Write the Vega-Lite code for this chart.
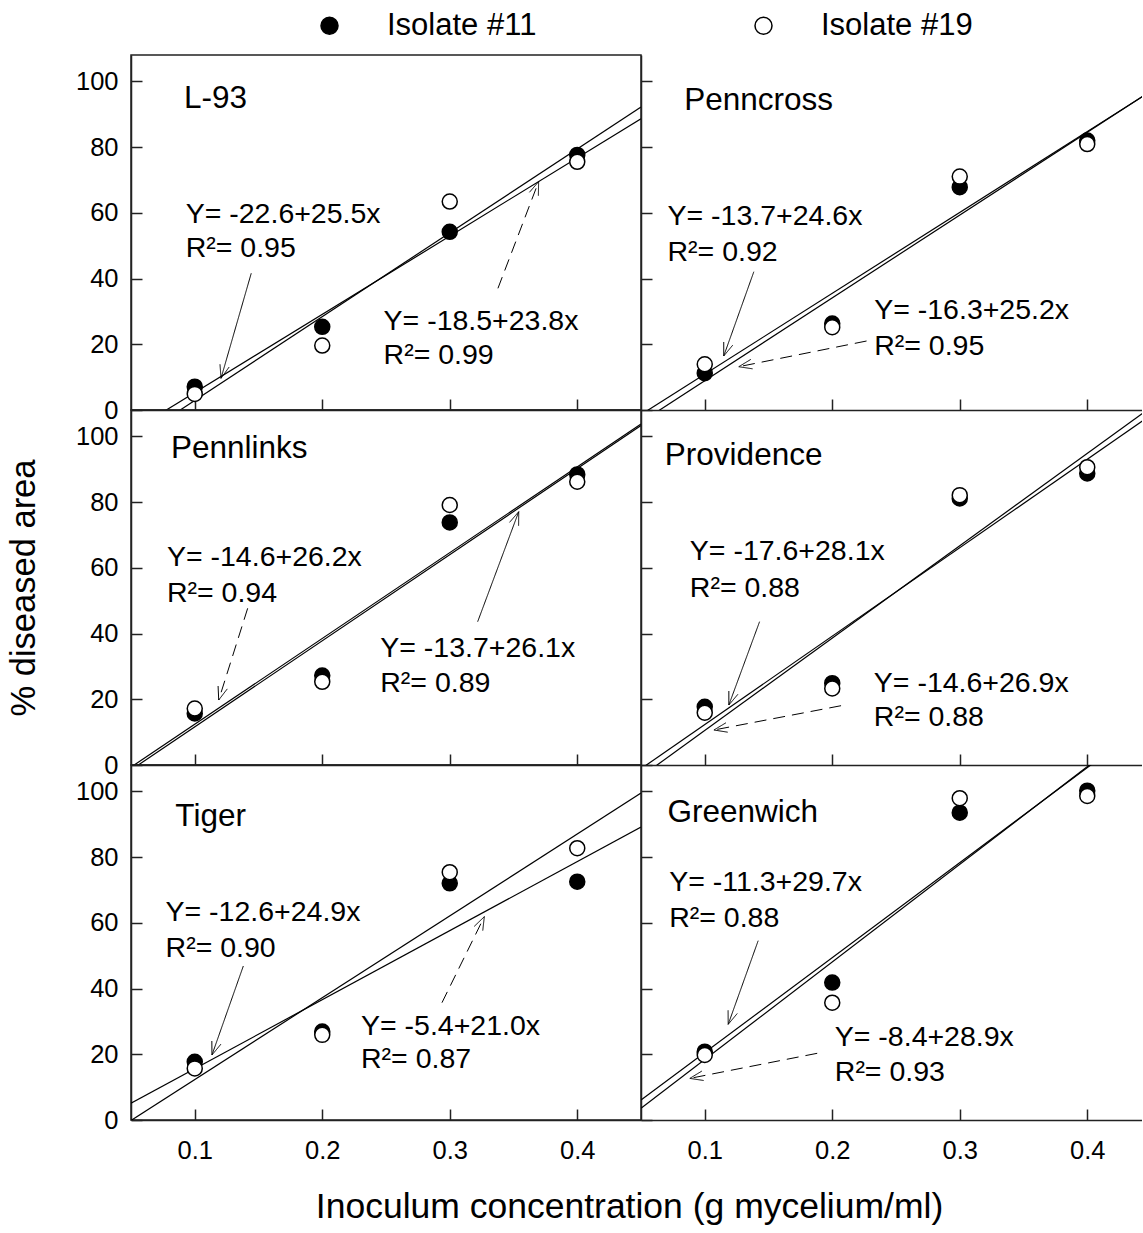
{
"$schema": "https://vega.github.io/schema/vega-lite/v6.json",
"padding": {"left": 5, "top": 10, "right": 0, "bottom": 0},
"config": {
  "font": "Liberation Sans",
  "view": {"stroke": "#222", "strokeWidth": 1.5},
  "axis": {"grid": false, "domainColor": "#222", "domainWidth": 1.5, "tickColor": "#222", "tickWidth": 1.5, "labelColor": "black", "labelFontSize": 25.5, "titleColor": "black", "titleFontSize": 34.5, "titleFontWeight": "normal"}
},
"datasets": {
  "pts": [
    {"panel":"L-93","isolate":"Isolate #11","x":0.1,"y":7.1},{"panel":"L-93","isolate":"Isolate #11","x":0.2,"y":25.3},{"panel":"L-93","isolate":"Isolate #11","x":0.3,"y":54.2},{"panel":"L-93","isolate":"Isolate #11","x":0.4,"y":77.6},
    {"panel":"L-93","isolate":"Isolate #19","x":0.1,"y":4.9},{"panel":"L-93","isolate":"Isolate #19","x":0.2,"y":19.6},{"panel":"L-93","isolate":"Isolate #19","x":0.3,"y":63.4},{"panel":"L-93","isolate":"Isolate #19","x":0.4,"y":75.5},
    {"panel":"Penncross","isolate":"Isolate #11","x":0.1,"y":11.2},{"panel":"Penncross","isolate":"Isolate #11","x":0.2,"y":26.3},{"panel":"Penncross","isolate":"Isolate #11","x":0.3,"y":67.8},{"panel":"Penncross","isolate":"Isolate #11","x":0.4,"y":82.0},
    {"panel":"Penncross","isolate":"Isolate #19","x":0.1,"y":13.9},{"panel":"Penncross","isolate":"Isolate #19","x":0.2,"y":25.2},{"panel":"Penncross","isolate":"Isolate #19","x":0.3,"y":71.0},{"panel":"Penncross","isolate":"Isolate #19","x":0.4,"y":80.9},
    {"panel":"Pennlinks","isolate":"Isolate #11","x":0.1,"y":15.7},{"panel":"Pennlinks","isolate":"Isolate #11","x":0.2,"y":27.2},{"panel":"Pennlinks","isolate":"Isolate #11","x":0.3,"y":73.8},{"panel":"Pennlinks","isolate":"Isolate #11","x":0.4,"y":88.4},
    {"panel":"Pennlinks","isolate":"Isolate #19","x":0.1,"y":17.2},{"panel":"Pennlinks","isolate":"Isolate #19","x":0.2,"y":25.3},{"panel":"Pennlinks","isolate":"Isolate #19","x":0.3,"y":79.1},{"panel":"Pennlinks","isolate":"Isolate #19","x":0.4,"y":86.2},
    {"panel":"Providence","isolate":"Isolate #11","x":0.1,"y":17.7},{"panel":"Providence","isolate":"Isolate #11","x":0.2,"y":24.9},{"panel":"Providence","isolate":"Isolate #11","x":0.3,"y":81.1},{"panel":"Providence","isolate":"Isolate #11","x":0.4,"y":88.7},
    {"panel":"Providence","isolate":"Isolate #19","x":0.1,"y":15.9},{"panel":"Providence","isolate":"Isolate #19","x":0.2,"y":23.3},{"panel":"Providence","isolate":"Isolate #19","x":0.3,"y":82.1},{"panel":"Providence","isolate":"Isolate #19","x":0.4,"y":90.6},
    {"panel":"Tiger","isolate":"Isolate #11","x":0.1,"y":17.7},{"panel":"Tiger","isolate":"Isolate #11","x":0.2,"y":26.9},{"panel":"Tiger","isolate":"Isolate #11","x":0.3,"y":72.0},{"panel":"Tiger","isolate":"Isolate #11","x":0.4,"y":72.5},
    {"panel":"Tiger","isolate":"Isolate #19","x":0.1,"y":15.7},{"panel":"Tiger","isolate":"Isolate #19","x":0.2,"y":25.9},{"panel":"Tiger","isolate":"Isolate #19","x":0.3,"y":75.4},{"panel":"Tiger","isolate":"Isolate #19","x":0.4,"y":82.7},
    {"panel":"Greenwich","isolate":"Isolate #11","x":0.1,"y":20.8},{"panel":"Greenwich","isolate":"Isolate #11","x":0.2,"y":41.8},{"panel":"Greenwich","isolate":"Isolate #11","x":0.3,"y":93.5},{"panel":"Greenwich","isolate":"Isolate #11","x":0.4,"y":100.2},
    {"panel":"Greenwich","isolate":"Isolate #19","x":0.1,"y":19.8},{"panel":"Greenwich","isolate":"Isolate #19","x":0.2,"y":35.7},{"panel":"Greenwich","isolate":"Isolate #19","x":0.3,"y":97.9},{"panel":"Greenwich","isolate":"Isolate #19","x":0.4,"y":98.6}
  ],
  "lines": [
    {"panel":"L-93","line":"a","x":0.05,"y":-9.85},{"panel":"L-93","line":"a","x":0.45,"y":92.15},
    {"panel":"L-93","line":"b","x":0.05,"y":-6.6},{"panel":"L-93","line":"b","x":0.45,"y":88.6},
    {"panel":"Penncross","line":"a","x":0.05,"y":-1.4},{"panel":"Penncross","line":"a","x":0.45,"y":97.0},
    {"panel":"Penncross","line":"b","x":0.05,"y":-3.7},{"panel":"Penncross","line":"b","x":0.45,"y":97.1},
    {"panel":"Pennlinks","line":"a","x":0.05,"y":-1.5},{"panel":"Pennlinks","line":"a","x":0.45,"y":103.3},
    {"panel":"Pennlinks","line":"b","x":0.05,"y":-0.65},{"panel":"Pennlinks","line":"b","x":0.45,"y":103.75},
    {"panel":"Providence","line":"a","x":0.05,"y":-3.55},{"panel":"Providence","line":"a","x":0.45,"y":108.85},
    {"panel":"Providence","line":"b","x":0.05,"y":-1.15},{"panel":"Providence","line":"b","x":0.45,"y":106.45},
    {"panel":"Tiger","line":"a","x":0.05,"y":-0.15},{"panel":"Tiger","line":"a","x":0.45,"y":99.45},
    {"panel":"Tiger","line":"b","x":0.05,"y":5.1},{"panel":"Tiger","line":"b","x":0.45,"y":89.1},
    {"panel":"Greenwich","line":"a","x":0.05,"y":3.55},{"panel":"Greenwich","line":"a","x":0.45,"y":122.35},
    {"panel":"Greenwich","line":"b","x":0.05,"y":6.05},{"panel":"Greenwich","line":"b","x":0.45,"y":121.65}
  ],
  "segs": [
    {"panel":"L-93","style":"solid","x":0.1443,"y":41.59,"x2":0.1206,"y2":9.64},
    {"panel":"L-93","style":"solid","x":0.1206,"y":9.64,"x2":0.1270,"y2":13.08},
    {"panel":"L-93","style":"solid","x":0.1206,"y":9.64,"x2":0.1198,"y2":13.90},
    {"panel":"L-93","style":"dashed","x":0.3378,"y":37.02,"x2":0.3697,"y2":69.46},
    {"panel":"L-93","style":"solid","x":0.3697,"y":69.46,"x2":0.3625,"y2":66.23},
    {"panel":"L-93","style":"solid","x":0.3697,"y":69.46,"x2":0.3695,"y2":65.20},
    {"panel":"Penncross","style":"solid","x":0.1385,"y":42.07,"x2":0.1149,"y2":16.43},
    {"panel":"Penncross","style":"solid","x":0.1149,"y":16.43,"x2":0.1219,"y2":19.71},
    {"panel":"Penncross","style":"solid","x":0.1149,"y":16.43,"x2":0.1149,"y2":20.69},
    {"panel":"Penncross","style":"dashed","x":0.2269,"y":20.99,"x2":0.1267,"y2":13.17},
    {"panel":"Penncross","style":"solid","x":0.1267,"y":13.17,"x2":0.1375,"y2":12.53},
    {"panel":"Penncross","style":"solid","x":0.1267,"y":13.17,"x2":0.1361,"y2":15.39},
    {"panel":"Pennlinks","style":"dashed","x":0.1415,"y":47.67,"x2":0.1188,"y2":19.78},
    {"panel":"Pennlinks","style":"solid","x":0.1188,"y":19.78,"x2":0.1255,"y2":23.15},
    {"panel":"Pennlinks","style":"solid","x":0.1188,"y":19.78,"x2":0.1183,"y2":24.03},
    {"panel":"Pennlinks","style":"solid","x":0.3219,"y":43.60,"x2":0.3541,"y2":77.06},
    {"panel":"Pennlinks","style":"solid","x":0.3541,"y":77.06,"x2":0.3469,"y2":73.81},
    {"panel":"Pennlinks","style":"solid","x":0.3541,"y":77.06,"x2":0.3540,"y2":72.80},
    {"panel":"Providence","style":"solid","x":0.1430,"y":43.60,"x2":0.1189,"y2":18.25},
    {"panel":"Providence","style":"solid","x":0.1189,"y":18.25,"x2":0.1260,"y2":21.51},
    {"panel":"Providence","style":"solid","x":0.1189,"y":18.25,"x2":0.1189,"y2":22.51},
    {"panel":"Providence","style":"dashed","x":0.2069,"y":18.04,"x2":0.1072,"y2":10.65},
    {"panel":"Providence","style":"solid","x":0.1072,"y":10.65,"x2":0.1180,"y2":9.98},
    {"panel":"Providence","style":"solid","x":0.1072,"y":10.65,"x2":0.1166,"y2":12.84},
    {"panel":"Tiger","style":"solid","x":0.1381,"y":46.85,"x2":0.1135,"y2":19.77},
    {"panel":"Tiger","style":"solid","x":0.1135,"y":19.77,"x2":0.1205,"y2":23.06},
    {"panel":"Tiger","style":"solid","x":0.1135,"y":19.77,"x2":0.1134,"y2":24.03},
    {"panel":"Tiger","style":"dashed","x":0.2939,"y":35.69,"x2":0.3271,"y2":61.85},
    {"panel":"Tiger","style":"solid","x":0.3271,"y":61.85,"x2":0.3192,"y2":58.90},
    {"panel":"Tiger","style":"solid","x":0.3271,"y":61.85,"x2":0.3259,"y2":57.62},
    {"panel":"Greenwich","style":"solid","x":0.1419,"y":54.55,"x2":0.1184,"y2":29.11},
    {"panel":"Greenwich","style":"solid","x":0.1184,"y":29.11,"x2":0.1255,"y2":32.40},
    {"panel":"Greenwich","style":"solid","x":0.1184,"y":29.11,"x2":0.1183,"y2":33.37},
    {"panel":"Greenwich","style":"dashed","x":0.1882,"y":20.29,"x2":0.0883,"y2":12.66},
    {"panel":"Greenwich","style":"solid","x":0.0883,"y":12.66,"x2":0.0991,"y2":12.02},
    {"panel":"Greenwich","style":"solid","x":0.0883,"y":12.66,"x2":0.0977,"y2":14.88}
  ],
  "txt": [
    {"panel":"L-93","kind":"label","x":0.0916,"y":91.9,"text":"L-93"},
    {"panel":"L-93","kind":"eq","x":0.0929,"y":56.98,"text":"Y= -22.6+25.5x"},
    {"panel":"L-93","kind":"eq","x":0.0929,"y":46.64,"text":"R²= 0.95"},
    {"panel":"L-93","kind":"eq","x":0.2481,"y":24.34,"text":"Y= -18.5+23.8x"},
    {"panel":"L-93","kind":"eq","x":0.2481,"y":13.99,"text":"R²= 0.99"},
    {"panel":"Penncross","kind":"label","x":0.0839,"y":91.3,"text":"Penncross"},
    {"panel":"Penncross","kind":"eq","x":0.0708,"y":56.3,"text":"Y= -13.7+24.6x"},
    {"panel":"Penncross","kind":"eq","x":0.0708,"y":45.4,"text":"R²= 0.92"},
    {"panel":"Penncross","kind":"eq","x":0.2329,"y":27.6,"text":"Y= -16.3+25.2x"},
    {"panel":"Penncross","kind":"eq","x":0.2329,"y":16.7,"text":"R²= 0.95"},
    {"panel":"Pennlinks","kind":"label","x":0.0814,"y":93.5,"text":"Pennlinks"},
    {"panel":"Pennlinks","kind":"eq","x":0.0782,"y":60.6,"text":"Y= -14.6+26.2x"},
    {"panel":"Pennlinks","kind":"eq","x":0.0782,"y":49.7,"text":"R²= 0.94"},
    {"panel":"Pennlinks","kind":"eq","x":0.2455,"y":32.9,"text":"Y= -13.7+26.1x"},
    {"panel":"Pennlinks","kind":"eq","x":0.2455,"y":22.1,"text":"R²= 0.89"},
    {"panel":"Providence","kind":"label","x":0.0687,"y":91.3,"text":"Providence"},
    {"panel":"Providence","kind":"eq","x":0.0883,"y":62.4,"text":"Y= -17.6+28.1x"},
    {"panel":"Providence","kind":"eq","x":0.0883,"y":51.2,"text":"R²= 0.88"},
    {"panel":"Providence","kind":"eq","x":0.2326,"y":22.3,"text":"Y= -14.6+26.9x"},
    {"panel":"Providence","kind":"eq","x":0.2326,"y":12.0,"text":"R²= 0.88"},
    {"panel":"Tiger","kind":"label","x":0.0848,"y":89.4,"text":"Tiger"},
    {"panel":"Tiger","kind":"eq","x":0.0771,"y":60.5,"text":"Y= -12.6+24.9x"},
    {"panel":"Tiger","kind":"eq","x":0.0771,"y":49.7,"text":"R²= 0.90"},
    {"panel":"Tiger","kind":"eq","x":0.2304,"y":25.9,"text":"Y= -5.4+21.0x"},
    {"panel":"Tiger","kind":"eq","x":0.2304,"y":15.7,"text":"R²= 0.87"},
    {"panel":"Greenwich","kind":"label","x":0.0708,"y":90.6,"text":"Greenwich"},
    {"panel":"Greenwich","kind":"eq","x":0.0721,"y":69.7,"text":"Y= -11.3+29.7x"},
    {"panel":"Greenwich","kind":"eq","x":0.0721,"y":58.8,"text":"R²= 0.88"},
    {"panel":"Greenwich","kind":"eq","x":0.2020,"y":22.5,"text":"Y= -8.4+28.9x"},
    {"panel":"Greenwich","kind":"eq","x":0.2020,"y":12.0,"text":"R²= 0.93"}
  ]
},
"columns": 2,
"spacing": 0,
"bounds": "flush",
"align": "each",
"resolve": {"scale": {"x": "independent", "y": "independent"}},
"concat": [
  {
    "width": 510, "height": 355,
    "encoding": {
      "x": {"field": "x", "type": "quantitative", "scale": {"domain": [0.05, 0.45], "nice": false, "zero": false}, "axis": {"values": [0.1, 0.2, 0.3, 0.4], "labels": false, "tickSize": -11, "title": null}},
      "y": {"field": "y", "type": "quantitative", "scale": {"domain": [0, 108], "nice": false}, "axis": {"values": [0, 20, 40, 60, 80, 100], "tickSize": -11, "labelPadding": 24, "title": null}}
    },
    "layer": [
      {"data": {"name": "lines"}, "transform": [{"filter": "datum.panel == 'L-93'"}], "mark": {"type": "line", "clip": true, "color": "black", "strokeWidth": 1.2}, "encoding": {"detail": {"field": "line", "type": "nominal"}}},
      {"data": {"name": "segs"}, "transform": [{"filter": "datum.panel == 'L-93'"}], "mark": {"type": "rule", "color": "black", "strokeWidth": 1}, "encoding": {"x2": {"field": "x2"}, "y2": {"field": "y2"}, "strokeDash": {"field": "style", "type": "nominal", "scale": {"domain": ["solid", "dashed"], "range": [[1, 0], [12, 7]]}, "legend": null}}},
      {"data": {"name": "pts"}, "transform": [{"filter": "datum.panel == 'L-93'"}], "mark": {"type": "circle", "size": 225, "stroke": "black", "strokeWidth": 1.5, "opacity": 1}, "encoding": {"fill": {"field": "isolate", "type": "nominal", "scale": {"domain": ["Isolate #11", "Isolate #19"], "range": ["black", "white"]}, "legend": {"title": null, "orient": "none", "legendX": 183, "legendY": -45, "direction": "horizontal", "labelFontSize": 31, "labelOffset": 42, "columnPadding": 211, "symbolSize": 289, "symbolStrokeColor": "black", "symbolStrokeWidth": 1.5, "symbolType": "circle", "labelColor": "black"}}}},
      {"data": {"name": "txt"}, "transform": [{"filter": "datum.panel == 'L-93' && datum.kind == 'label'"}], "mark": {"type": "text", "align": "left", "baseline": "alphabetic", "fontSize": 31.5, "color": "black"}, "encoding": {"text": {"field": "text"}}},
      {"data": {"name": "txt"}, "transform": [{"filter": "datum.panel == 'L-93' && datum.kind == 'eq'"}], "mark": {"type": "text", "align": "left", "baseline": "alphabetic", "fontSize": 28.5, "color": "black"}, "encoding": {"text": {"field": "text"}}}
    ]
  },
  {
    "width": 501, "height": 355,
    "view": {"stroke": null},
    "encoding": {
      "x": {"field": "x", "type": "quantitative", "scale": {"domain": [0.05, 0.442941], "nice": false, "zero": false}, "axis": {"values": [0.1, 0.2, 0.3, 0.4], "labels": false, "tickSize": -11, "title": null}},
      "y": {"field": "y", "type": "quantitative", "scale": {"domain": [0, 108], "nice": false}, "axis": {"values": [0, 20, 40, 60, 80, 100], "labels": false, "tickSize": -11, "title": null}}
    },
    "layer": [
      {"data": {"values": [{"edge": "top"}]}, "mark": {"type": "rule", "color": "#222", "strokeWidth": 1.5}, "encoding": {"x": {"datum": 0.05}, "x2": {"datum": 0.442941}, "y": {"datum": 108}}},
      {"data": {"name": "lines"}, "transform": [{"filter": "datum.panel == 'Penncross'"}], "mark": {"type": "line", "clip": true, "color": "black", "strokeWidth": 1.2}, "encoding": {"detail": {"field": "line", "type": "nominal"}}},
      {"data": {"name": "segs"}, "transform": [{"filter": "datum.panel == 'Penncross'"}], "mark": {"type": "rule", "color": "black", "strokeWidth": 1}, "encoding": {"x2": {"field": "x2"}, "y2": {"field": "y2"}, "strokeDash": {"field": "style", "type": "nominal", "scale": {"domain": ["solid", "dashed"], "range": [[1, 0], [12, 7]]}, "legend": null}}},
      {"data": {"name": "pts"}, "transform": [{"filter": "datum.panel == 'Penncross'"}], "mark": {"type": "circle", "size": 225, "stroke": "black", "strokeWidth": 1.5, "opacity": 1}, "encoding": {"fill": {"field": "isolate", "type": "nominal", "scale": {"domain": ["Isolate #11", "Isolate #19"], "range": ["black", "white"]}, "legend": {"title": null, "orient": "none", "legendX": 183, "legendY": -45, "direction": "horizontal", "labelFontSize": 31, "labelOffset": 42, "columnPadding": 211, "symbolSize": 289, "symbolStrokeColor": "black", "symbolStrokeWidth": 1.5, "symbolType": "circle", "labelColor": "black"}}}},
      {"data": {"name": "txt"}, "transform": [{"filter": "datum.panel == 'Penncross' && datum.kind == 'label'"}], "mark": {"type": "text", "align": "left", "baseline": "alphabetic", "fontSize": 31.5, "color": "black"}, "encoding": {"text": {"field": "text"}}},
      {"data": {"name": "txt"}, "transform": [{"filter": "datum.panel == 'Penncross' && datum.kind == 'eq'"}], "mark": {"type": "text", "align": "left", "baseline": "alphabetic", "fontSize": 28.5, "color": "black"}, "encoding": {"text": {"field": "text"}}}
    ]
  },
  {
    "width": 510, "height": 355,
    "encoding": {
      "x": {"field": "x", "type": "quantitative", "scale": {"domain": [0.05, 0.45], "nice": false, "zero": false}, "axis": {"values": [0.1, 0.2, 0.3, 0.4], "labels": false, "tickSize": -11, "title": null}},
      "y": {"field": "y", "type": "quantitative", "scale": {"domain": [0, 108], "nice": false}, "axis": {"values": [0, 20, 40, 60, 80, 100], "tickSize": -11, "labelPadding": 24, "title": "% diseased area", "titleX": -97, "titleBaseline": "alphabetic", "titleAlign": "center"}}
    },
    "layer": [
      {"data": {"name": "lines"}, "transform": [{"filter": "datum.panel == 'Pennlinks'"}], "mark": {"type": "line", "clip": true, "color": "black", "strokeWidth": 1.2}, "encoding": {"detail": {"field": "line", "type": "nominal"}}},
      {"data": {"name": "segs"}, "transform": [{"filter": "datum.panel == 'Pennlinks'"}], "mark": {"type": "rule", "color": "black", "strokeWidth": 1}, "encoding": {"x2": {"field": "x2"}, "y2": {"field": "y2"}, "strokeDash": {"field": "style", "type": "nominal", "scale": {"domain": ["solid", "dashed"], "range": [[1, 0], [12, 7]]}, "legend": null}}},
      {"data": {"name": "pts"}, "transform": [{"filter": "datum.panel == 'Pennlinks'"}], "mark": {"type": "circle", "size": 225, "stroke": "black", "strokeWidth": 1.5, "opacity": 1}, "encoding": {"fill": {"field": "isolate", "type": "nominal", "scale": {"domain": ["Isolate #11", "Isolate #19"], "range": ["black", "white"]}, "legend": {"title": null, "orient": "none", "legendX": 183, "legendY": -45, "direction": "horizontal", "labelFontSize": 31, "labelOffset": 42, "columnPadding": 211, "symbolSize": 289, "symbolStrokeColor": "black", "symbolStrokeWidth": 1.5, "symbolType": "circle", "labelColor": "black"}}}},
      {"data": {"name": "txt"}, "transform": [{"filter": "datum.panel == 'Pennlinks' && datum.kind == 'label'"}], "mark": {"type": "text", "align": "left", "baseline": "alphabetic", "fontSize": 31.5, "color": "black"}, "encoding": {"text": {"field": "text"}}},
      {"data": {"name": "txt"}, "transform": [{"filter": "datum.panel == 'Pennlinks' && datum.kind == 'eq'"}], "mark": {"type": "text", "align": "left", "baseline": "alphabetic", "fontSize": 28.5, "color": "black"}, "encoding": {"text": {"field": "text"}}}
    ]
  },
  {
    "width": 501, "height": 355,
    "view": {"stroke": null},
    "encoding": {
      "x": {"field": "x", "type": "quantitative", "scale": {"domain": [0.05, 0.442941], "nice": false, "zero": false}, "axis": {"values": [0.1, 0.2, 0.3, 0.4], "labels": false, "tickSize": -11, "title": null}},
      "y": {"field": "y", "type": "quantitative", "scale": {"domain": [0, 108], "nice": false}, "axis": {"values": [0, 20, 40, 60, 80, 100], "labels": false, "tickSize": -11, "title": null}}
    },
    "layer": [
      {"data": {"name": "lines"}, "transform": [{"filter": "datum.panel == 'Providence'"}], "mark": {"type": "line", "clip": true, "color": "black", "strokeWidth": 1.2}, "encoding": {"detail": {"field": "line", "type": "nominal"}}},
      {"data": {"name": "segs"}, "transform": [{"filter": "datum.panel == 'Providence'"}], "mark": {"type": "rule", "color": "black", "strokeWidth": 1}, "encoding": {"x2": {"field": "x2"}, "y2": {"field": "y2"}, "strokeDash": {"field": "style", "type": "nominal", "scale": {"domain": ["solid", "dashed"], "range": [[1, 0], [12, 7]]}, "legend": null}}},
      {"data": {"name": "pts"}, "transform": [{"filter": "datum.panel == 'Providence'"}], "mark": {"type": "circle", "size": 225, "stroke": "black", "strokeWidth": 1.5, "opacity": 1}, "encoding": {"fill": {"field": "isolate", "type": "nominal", "scale": {"domain": ["Isolate #11", "Isolate #19"], "range": ["black", "white"]}, "legend": {"title": null, "orient": "none", "legendX": 183, "legendY": -45, "direction": "horizontal", "labelFontSize": 31, "labelOffset": 42, "columnPadding": 211, "symbolSize": 289, "symbolStrokeColor": "black", "symbolStrokeWidth": 1.5, "symbolType": "circle", "labelColor": "black"}}}},
      {"data": {"name": "txt"}, "transform": [{"filter": "datum.panel == 'Providence' && datum.kind == 'label'"}], "mark": {"type": "text", "align": "left", "baseline": "alphabetic", "fontSize": 31.5, "color": "black"}, "encoding": {"text": {"field": "text"}}},
      {"data": {"name": "txt"}, "transform": [{"filter": "datum.panel == 'Providence' && datum.kind == 'eq'"}], "mark": {"type": "text", "align": "left", "baseline": "alphabetic", "fontSize": 28.5, "color": "black"}, "encoding": {"text": {"field": "text"}}}
    ]
  },
  {
    "width": 510, "height": 355,
    "encoding": {
      "x": {"field": "x", "type": "quantitative", "scale": {"domain": [0.05, 0.45], "nice": false, "zero": false}, "axis": {"values": [0.1, 0.2, 0.3, 0.4], "format": ".1f", "tickSize": -11, "labelPadding": 29, "title": "Inoculum concentration (g mycelium/ml)", "titleFontSize": 35.5, "titleX": 498, "titleY": 97, "titleBaseline": "alphabetic", "titleAlign": "center"}},
      "y": {"field": "y", "type": "quantitative", "scale": {"domain": [0, 108], "nice": false}, "axis": {"values": [0, 20, 40, 60, 80, 100], "tickSize": -11, "labelPadding": 24, "title": null}}
    },
    "layer": [
      {"data": {"name": "lines"}, "transform": [{"filter": "datum.panel == 'Tiger'"}], "mark": {"type": "line", "clip": true, "color": "black", "strokeWidth": 1.2}, "encoding": {"detail": {"field": "line", "type": "nominal"}}},
      {"data": {"name": "segs"}, "transform": [{"filter": "datum.panel == 'Tiger'"}], "mark": {"type": "rule", "color": "black", "strokeWidth": 1}, "encoding": {"x2": {"field": "x2"}, "y2": {"field": "y2"}, "strokeDash": {"field": "style", "type": "nominal", "scale": {"domain": ["solid", "dashed"], "range": [[1, 0], [12, 7]]}, "legend": null}}},
      {"data": {"name": "pts"}, "transform": [{"filter": "datum.panel == 'Tiger'"}], "mark": {"type": "circle", "size": 225, "stroke": "black", "strokeWidth": 1.5, "opacity": 1}, "encoding": {"fill": {"field": "isolate", "type": "nominal", "scale": {"domain": ["Isolate #11", "Isolate #19"], "range": ["black", "white"]}, "legend": {"title": null, "orient": "none", "legendX": 183, "legendY": -45, "direction": "horizontal", "labelFontSize": 31, "labelOffset": 42, "columnPadding": 211, "symbolSize": 289, "symbolStrokeColor": "black", "symbolStrokeWidth": 1.5, "symbolType": "circle", "labelColor": "black"}}}},
      {"data": {"name": "txt"}, "transform": [{"filter": "datum.panel == 'Tiger' && datum.kind == 'label'"}], "mark": {"type": "text", "align": "left", "baseline": "alphabetic", "fontSize": 31.5, "color": "black"}, "encoding": {"text": {"field": "text"}}},
      {"data": {"name": "txt"}, "transform": [{"filter": "datum.panel == 'Tiger' && datum.kind == 'eq'"}], "mark": {"type": "text", "align": "left", "baseline": "alphabetic", "fontSize": 28.5, "color": "black"}, "encoding": {"text": {"field": "text"}}}
    ]
  },
  {
    "width": 501, "height": 355,
    "view": {"stroke": null},
    "encoding": {
      "x": {"field": "x", "type": "quantitative", "scale": {"domain": [0.05, 0.442941], "nice": false, "zero": false}, "axis": {"values": [0.1, 0.2, 0.3, 0.4], "format": ".1f", "tickSize": -11, "labelPadding": 29, "title": null}},
      "y": {"field": "y", "type": "quantitative", "scale": {"domain": [0, 108], "nice": false}, "axis": {"values": [0, 20, 40, 60, 80, 100], "labels": false, "tickSize": -11, "title": null}}
    },
    "layer": [
      {"data": {"name": "lines"}, "transform": [{"filter": "datum.panel == 'Greenwich'"}], "mark": {"type": "line", "clip": true, "color": "black", "strokeWidth": 1.2}, "encoding": {"detail": {"field": "line", "type": "nominal"}}},
      {"data": {"name": "segs"}, "transform": [{"filter": "datum.panel == 'Greenwich'"}], "mark": {"type": "rule", "color": "black", "strokeWidth": 1}, "encoding": {"x2": {"field": "x2"}, "y2": {"field": "y2"}, "strokeDash": {"field": "style", "type": "nominal", "scale": {"domain": ["solid", "dashed"], "range": [[1, 0], [12, 7]]}, "legend": null}}},
      {"data": {"name": "pts"}, "transform": [{"filter": "datum.panel == 'Greenwich'"}], "mark": {"type": "circle", "size": 225, "stroke": "black", "strokeWidth": 1.5, "opacity": 1}, "encoding": {"fill": {"field": "isolate", "type": "nominal", "scale": {"domain": ["Isolate #11", "Isolate #19"], "range": ["black", "white"]}, "legend": {"title": null, "orient": "none", "legendX": 183, "legendY": -45, "direction": "horizontal", "labelFontSize": 31, "labelOffset": 42, "columnPadding": 211, "symbolSize": 289, "symbolStrokeColor": "black", "symbolStrokeWidth": 1.5, "symbolType": "circle", "labelColor": "black"}}}},
      {"data": {"name": "txt"}, "transform": [{"filter": "datum.panel == 'Greenwich' && datum.kind == 'label'"}], "mark": {"type": "text", "align": "left", "baseline": "alphabetic", "fontSize": 31.5, "color": "black"}, "encoding": {"text": {"field": "text"}}},
      {"data": {"name": "txt"}, "transform": [{"filter": "datum.panel == 'Greenwich' && datum.kind == 'eq'"}], "mark": {"type": "text", "align": "left", "baseline": "alphabetic", "fontSize": 28.5, "color": "black"}, "encoding": {"text": {"field": "text"}}}
    ]
  }
]
}
